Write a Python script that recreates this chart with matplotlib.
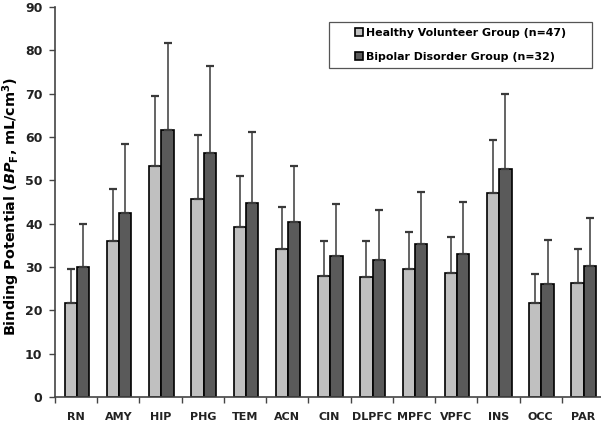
import numpy as np
import matplotlib
matplotlib.use('Agg')
import matplotlib.pyplot as plt
from matplotlib.patches import Rectangle

regions = ['RN', 'AMY', 'HIP', 'PHG', 'TEM', 'ACN', 'CIN', 'DLPFC', 'MPFC', 'VPFC', 'INS', 'OCC', 'PAR']
healthy = [21.8, 36.1, 53.4, 45.8, 39.3, 34.1, 27.9, 27.6, 29.6, 28.7, 47.0, 21.7, 26.3]
healthy_top = [29.5, 48.0, 69.4, 60.5, 50.9, 43.9, 36.1, 36.0, 38.1, 37.0, 59.3, 28.5, 34.1]
bipolar = [29.9, 42.5, 61.5, 56.3, 44.8, 40.3, 32.6, 31.7, 35.2, 33.1, 52.6, 26.0, 30.2]
bipolar_top = [40.0, 58.3, 81.6, 76.3, 61.2, 53.2, 44.5, 43.2, 47.3, 45.0, 70.0, 36.2, 41.3]

healthy_err = np.array(healthy_top) - np.array(healthy)
bipolar_err = np.array(bipolar_top) - np.array(bipolar)

W, H = 601, 421
fig = plt.figure(figsize=(W/100, H/100), dpi=100)
ax = fig.add_axes([55/W, 24/H, 549/W, 390/H])

x = np.arange(len(regions))
w = 0.29
ekw = dict(elinewidth=1.1, capsize=3, capthick=1.6, ecolor='#3a3a3a')
ax.bar(x - w/2 + 0.02, healthy, w, color='#c0c0c0', edgecolor='black', linewidth=1.2,
       yerr=[np.zeros(len(x)), healthy_err], error_kw=ekw, label='Healthy Volunteer Group (n=47)', zorder=2)
ax.bar(x + w/2 + 0.02, bipolar, w, color='#5a5a5a', edgecolor='black', linewidth=1.2,
       yerr=[np.zeros(len(x)), bipolar_err], error_kw=ekw, label='Bipolar Disorder Group (n=32)', zorder=2)

ax.set_xlim(-0.5, len(regions) - 0.5)
ax.set_ylim(0, 90)
ax.set_yticks(range(0, 91, 10))
ax.set_xticks(x)
ax.set_xticklabels(regions, fontweight='bold', fontsize=8, color='#222222')
ax.set_xticks(np.arange(-0.5, len(regions), 1), minor=True)
ax.tick_params(axis='x', which='major', length=0, pad=11)
ax.tick_params(axis='x', which='minor', length=4, width=1, direction='out', color='#444444')
ax.tick_params(axis='y', length=4, width=1, direction='out', color='#444444', pad=5)
for lab in ax.get_yticklabels():
    lab.set_fontweight('bold')
    lab.set_fontsize(9)
    lab.set_color('#222222')

for s in ['top', 'right']:
    ax.spines[s].set_visible(False)
for s in ['left', 'bottom']:
    ax.spines[s].set_color('#444444')
    ax.spines[s].set_linewidth(1.2)

ax.set_ylabel(r'Binding Potential ($\mathbfit{BP}_{\mathbf{F}}$, mL/cm$^{\mathbf{3}}$)',
              fontweight='bold', fontsize=10.4)
ax.yaxis.set_label_coords(-33/549, (397 - 206) / 390)

# legend text without frame, box drawn separately to match the reference size
box_l, box_t, box_w, box_h = 329, 22, 263, 46
leg = fig.legend(loc='center', bbox_to_anchor=((box_l + box_w/2)/W, 1 - (box_t + box_h/2)/H),
                 frameon=False, prop={'weight': 'bold', 'size': 7.9},
                 handlelength=0.7, handleheight=0.7, handletextpad=0.3,
                 borderpad=0, labelspacing=1.25)
for h in leg.legend_handles:
    h.set_linewidth(1.2)
fig.add_artist(Rectangle((box_l/W, 1 - (box_t + box_h)/H), box_w/W, box_h/H,
                         transform=fig.transFigure, fill=False, edgecolor='#555555', linewidth=0.9))

fig.savefig('out.png', dpi=100)
